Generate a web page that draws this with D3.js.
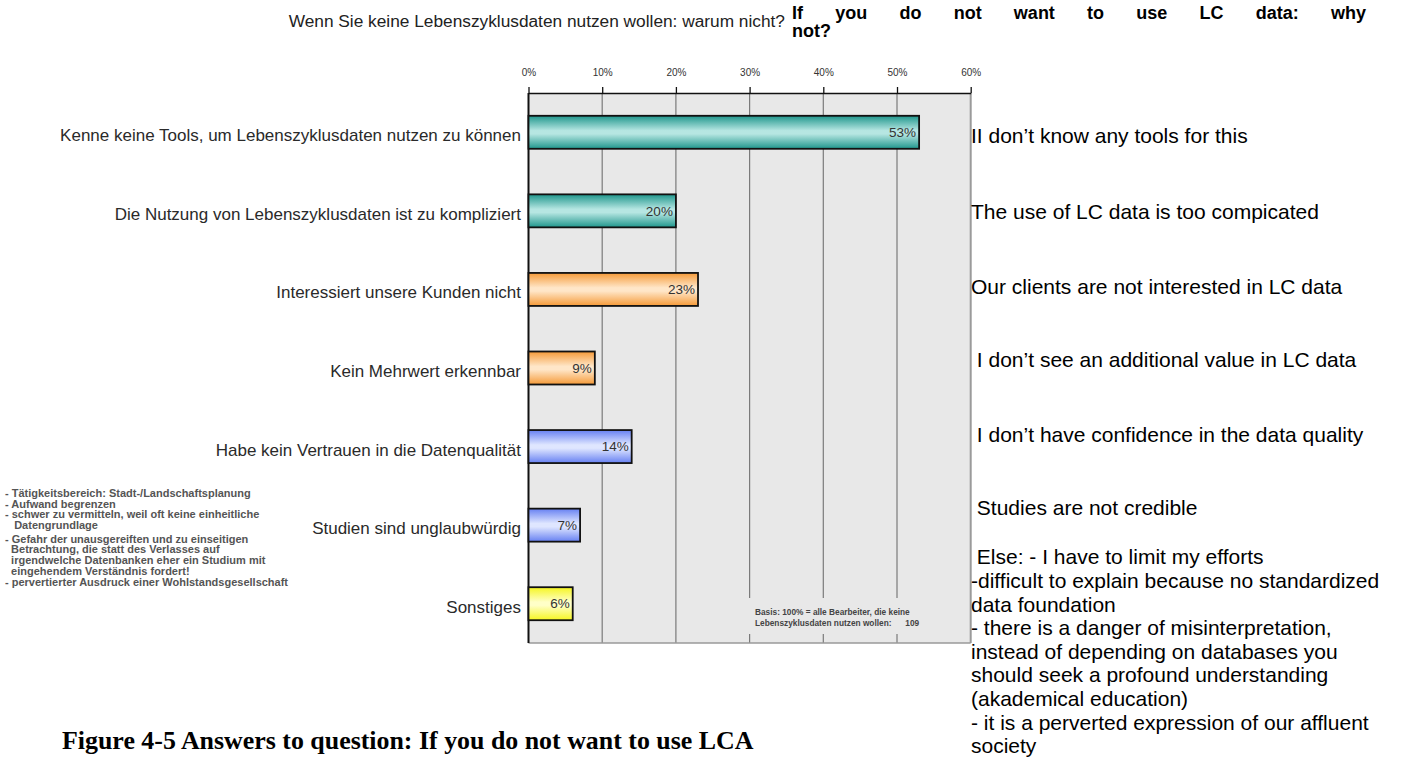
<!DOCTYPE html>
<html>
<head>
<meta charset="utf-8">
<script src="https://cdn.jsdelivr.net/npm/d3@7/dist/d3.min.js"></script>
<style>
  body { margin: 0; background: #fff; }
  svg { display: block; }
  text { white-space: pre; }
</style>
</head>
<body>
<div id="chart"></div>
<script>
// Antworten (Anteil in %)
const categories = [
    "Kenne keine Tools, um Lebenszyklusdaten nutzen zu können",
    "Die Nutzung von Lebenszyklusdaten ist zu kompliziert",
    "Interessiert unsere Kunden nicht",
    "Kein Mehrwert erkennbar",
    "Habe kein Vertrauen in die Datenqualität",
    "Studien sind unglaubwürdig",
    "Sonstiges"
];
const values = [53, 20, 23, 9, 14, 7, 6];
const barGroups = ["teal", "teal", "orange", "orange", "blue", "blue", "yellow"];
const tickValues = [0, 10, 20, 30, 40, 50, 60];

const englishLabels = [
    "II don\u2019t know any tools for this",
    "The use of LC data is too compicated",
    "Our clients are not interested in LC data",
    " I don\u2019t see an additional value in LC data",
    " I don\u2019t have confidence in the data quality",
    " Studies are not credible"
];
const elseLines = [
    " Else: - I have to limit my efforts",
    "-difficult to explain because no standardized",
    "data foundation",
    "- there is a danger of misinterpretation,",
    "instead of depending on databases you",
    "should seek a profound understanding",
    "(akademical education)",
    "- it is a perverted expression of our affluent",
    "society"
];
const noteLines = [
    "- Tätigkeitsbereich: Stadt-/Landschaftsplanung",
    "- Aufwand begrenzen",
    "- schwer zu vermitteln, weil oft keine einheitliche",
    "   Datengrundlage",
    "- Gefahr der unausgereiften und zu einseitigen",
    "  Betrachtung, die statt des Verlasses auf",
    "  irgendwelche Datenbanken eher ein Studium mit",
    "  eingehendem Verständnis fordert!",
    "- pervertierter Ausdruck einer Wohlstandsgesellschaft"
];
const basisLines = [
    "Basis: 100% = alle Bearbeiter, die keine",
    "Lebenszyklusdaten nutzen wollen:      109"
];

// Farbverläufe (Rand, Mitte)
const gradientColors = {
    teal:   ["#1f968c", "#b6e6e2"],
    orange: ["#f59a38", "#ffe6c8"],
    blue:   ["#6680f2", "#dfe6ff"],
    yellow: ["#f5f520", "#ffffc8"]
};

const width = 1401, height = 763;
const plot = { left: 528.5, right: 970.7, top: 93, bottom: 643 };
const sans = "'Liberation Sans', Arial, sans-serif";
const narrow = "'Liberation Sans Narrow', 'Arial Narrow', 'Liberation Sans', Arial, sans-serif";

const svg = d3.select("#chart").append("svg")
    .attr("width", width)
    .attr("height", height);

const x = d3.scaleLinear().domain([0, 60]).range([plot.left, plot.right]);
const y = d3.scaleBand().domain(categories)
    .range([plot.top, plot.bottom])
    .paddingInner(0.58)
    .paddingOuter(0.29);

// Gradients
const defs = svg.append("defs");
Object.entries(gradientColors).forEach(([key, [edge, mid]]) => {
    const g = defs.append("linearGradient")
        .attr("id", "grad-" + key)
        .attr("x1", 0).attr("y1", 0).attr("x2", 0).attr("y2", 1);
    g.append("stop").attr("offset", "0%").attr("stop-color", edge);
    g.append("stop").attr("offset", "45%").attr("stop-color", mid);
    g.append("stop").attr("offset", "55%").attr("stop-color", mid);
    g.append("stop").attr("offset", "100%").attr("stop-color", edge);
});

// Hintergrund der Grafik
svg.append("rect")
    .attr("x", plot.left).attr("y", plot.top)
    .attr("width", plot.right - plot.left)
    .attr("height", plot.bottom - plot.top)
    .attr("fill", "#e8e8e8");

// Gitterlinien
svg.append("g")
    .selectAll("line")
    .data(tickValues.slice(1, -1))
    .enter()
    .append("line")
    .attr("x1", d => x(d)).attr("x2", d => x(d))
    .attr("y1", plot.top).attr("y2", plot.bottom)
    .attr("stroke", "#7a7a7a")
    .attr("stroke-width", 1.2);

// Basis-Hinweis (verdeckt die Gitterlinien)
svg.append("rect")
    .attr("x", 745).attr("y", 598)
    .attr("width", 185).attr("height", 36)
    .attr("fill", "#e8e8e8");
svg.append("g")
    .selectAll("text")
    .data(basisLines)
    .enter()
    .append("text")
    .attr("x", 755)
    .attr("y", (d, i) => 615 + i * 11)
    .text(d => d)
    .style("font-family", narrow)
    .style("font-size", "8.3px")
    .style("font-weight", "bold")
    .style("fill", "#444");

// Rahmen
svg.append("line")
    .attr("x1", plot.right).attr("x2", plot.right)
    .attr("y1", plot.top).attr("y2", plot.bottom)
    .attr("stroke", "#9a9a9a").attr("stroke-width", 2);
svg.append("line")
    .attr("x1", plot.left).attr("x2", plot.right)
    .attr("y1", plot.bottom).attr("y2", plot.bottom)
    .attr("stroke", "#9a9a9a").attr("stroke-width", 1.5);
svg.append("line")
    .attr("x1", plot.left).attr("x2", plot.left)
    .attr("y1", plot.top).attr("y2", plot.bottom)
    .attr("stroke", "#111").attr("stroke-width", 2);

// Obere Achse
const axis = svg.append("g")
    .attr("transform", `translate(0,${plot.top})`)
    .call(d3.axisTop(x).tickValues(tickValues).tickFormat(d => d + "%").tickSize(6).tickSizeOuter(0));
axis.select(".domain").attr("stroke", "#111").attr("stroke-width", 1.5);
axis.selectAll(".tick line").attr("stroke", "#111").attr("stroke-width", 1.3);
axis.selectAll(".tick text")
    .attr("y", -17)
    .style("font-family", narrow)
    .style("font-size", "10px")
    .style("fill", "#333");

// Balken
svg.append("g")
    .selectAll("rect")
    .data(categories)
    .enter()
    .append("rect")
    .attr("x", x(0))
    .attr("y", d => y(d))
    .attr("width", (d, i) => x(values[i]) - x(0))
    .attr("height", y.bandwidth())
    .attr("fill", (d, i) => `url(#grad-${barGroups[i]})`)
    .attr("stroke", "#111")
    .attr("stroke-width", 1.8);

// Werte in den Balken
svg.append("g")
    .selectAll("text")
    .data(categories)
    .enter()
    .append("text")
    .attr("x", (d, i) => x(values[i]) - 3)
    .attr("y", d => y(d) + y.bandwidth() / 2)
    .attr("dy", "0.35em")
    .attr("text-anchor", "end")
    .text((d, i) => values[i] + "%")
    .style("font-family", narrow)
    .style("font-size", "13.5px")
    .style("fill", "#333");

// Kategorien links
svg.append("g")
    .selectAll("text")
    .data(categories)
    .enter()
    .append("text")
    .attr("x", 521)
    .attr("y", d => y(d) + y.bandwidth() / 2 + 3)
    .attr("dy", "0.35em")
    .attr("text-anchor", "end")
    .text(d => d)
    .style("font-family", sans)
    .style("font-size", "17px")
    .style("fill", "#2a2a2a");

// Englische Übersetzungen rechts
svg.append("g")
    .selectAll("text")
    .data(englishLabels)
    .enter()
    .append("text")
    .attr("x", 971)
    .attr("y", (d, i) => y(categories[i]) + y.bandwidth() / 2 + [3, 1, -3, -8, -12, -17][i])
    .attr("dy", "0.35em")
    .text(d => d)
    .style("font-family", sans)
    .style("font-size", "21px")
    .style("fill", "#000");

svg.append("g")
    .selectAll("text")
    .data(elseLines)
    .enter()
    .append("text")
    .attr("x", 971)
    .attr("y", (d, i) => 557 + i * 23.6)
    .attr("dy", "0.35em")
    .text(d => d)
    .style("font-family", sans)
    .style("font-size", "21px")
    .style("fill", "#000");

// Anmerkungen links unten
svg.append("g")
    .selectAll("text")
    .data(noteLines)
    .enter()
    .append("text")
    .attr("x", 5)
    .attr("y", (d, i) => 493 + i * 10.8 + (i >= 4 ? 2.5 : 0))
    .attr("dy", "0.35em")
    .text(d => d)
    .style("font-family", narrow)
    .style("font-size", "11px")
    .style("font-weight", "bold")
    .style("fill", "#555");

// Titel
svg.append("text")
    .attr("x", 785)
    .attr("y", 27)
    .attr("text-anchor", "end")
    .text("Wenn Sie keine Lebenszyklusdaten nutzen wollen: warum nicht?")
    .style("font-family", sans)
    .style("font-size", "17.3px")
    .style("fill", "#222");

// Englischer Titel, Blocksatz bis zum rechten Rand
const enTitle = svg.append("text")
    .attr("x", 792)
    .attr("y", 19)
    .text("If you do not want to use LC data: why")
    .style("font-family", sans)
    .style("font-size", "18px")
    .style("font-weight", "bold")
    .style("fill", "#000");
const natural = enTitle.node().getComputedTextLength();
enTitle.style("word-spacing", ((1366 - 792 - natural) / 9) + "px");

svg.append("text")
    .attr("x", 792)
    .attr("y", 37)
    .text("not?")
    .style("font-family", sans)
    .style("font-size", "18px")
    .style("font-weight", "bold")
    .style("fill", "#000");

// Bildunterschrift
svg.append("text")
    .attr("x", 62)
    .attr("y", 749)
    .text("Figure 4-5 Answers to question: If you do not want to use LCA")
    .style("font-family", "'Liberation Serif', 'Times New Roman', serif")
    .style("font-size", "25.9px")
    .style("font-weight", "bold")
    .style("fill", "#000");
</script>
</body>
</html>
